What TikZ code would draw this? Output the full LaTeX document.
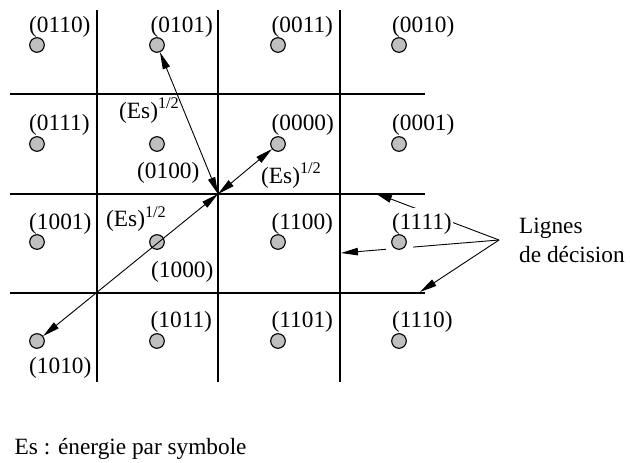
\documentclass[tikz,border=0pt]{standalone}
\usepackage{fontspec}
\setmainfont{Liberation Serif}
\usetikzlibrary{arrows.meta}
\begin{document}
\begin{tikzpicture}[x=1pt,y=-1pt,
  font=\fontsize{23.3}{28}\selectfont,
  gridline/.style={line width=2pt},
  pt/.style={circle,draw,fill=gray!50,line width=1.1pt,minimum size=14.6pt,inner sep=0pt},
  halo/.style={circle,fill=white,minimum size=30pt,inner sep=0pt},
  lab/.style={anchor=base west,inner sep=0pt},
  arr/.style={line width=0.9pt,-{Triangle[length=17pt,width=7.5pt]}},
  darr/.style={line width=0.9pt,{Triangle[length=17pt,width=7.5pt]}-{Triangle[length=17pt,width=7.5pt]}}]
\useasboundingbox (0,0) rectangle (630,463);
% grid
\draw[gridline] (97,10) -- (97,382);
\draw[gridline] (218,10) -- (218,382);
\draw[gridline] (340,10) -- (340,382);
\draw[gridline] (10,94) -- (425,94);
\draw[gridline] (10,194) -- (425,194);
\draw[gridline] (10,293) -- (425,293);
\coordinate (o) at (218,194);
% decision lines
\coordinate (ld) at (499,240);
\coordinate (t1) at (375,193);
\coordinate (t2) at (341,253);
\coordinate (t3) at (420,292);
\draw[arr] (ld) -- (t1);
\draw[arr] (ld) -- (t2);
\draw[arr] (ld) -- (t3);
\node[halo] (h1111) at (399,242) {};
% points
\node[pt] (c0110) at (37,45) {};
\node[pt] (c0101) at (157,45) {};
\node[pt] (c0011) at (278,45) {};
\node[pt] (c0010) at (399,45) {};
\node[pt] (c0111) at (37,144) {};
\node[pt] (c0100) at (157,144) {};
\node[pt] (c0000) at (278,144) {};
\node[pt] (c0001) at (399,144) {};
\node[pt] (c1001) at (37,242) {};
\node[pt] (c1000) at (157,242) {};
\node[pt] (c1100) at (278,242) {};
\node[pt] (c1010) at (37,341) {};
\node[pt] (c1011) at (157,341) {};
\node[pt] (c1101) at (278,341) {};
\node[pt] (c1110) at (399,341) {};
% labels
\node[lab] (l0110) at (29,32) {(0110)};
\node[lab] (l0101) at (150.5,32) {(0101)};
\node[lab] (l0011) at (271.5,32) {(0011)};
\node[lab] (l0010) at (392,32) {(0010)};
\node[lab] (l0111) at (29,130) {(0111)};
\node[lab] (l0000) at (271.5,130) {(0000)};
\node[lab] (l0001) at (392,130) {(0001)};
\node[lab] (l0100) at (137,178) {(0100)};
\node[lab] (l1001) at (29,229) {(1001)};
\node[lab] (l1100) at (271.5,229) {(1100)};
\node[lab,fill=white,inner xsep=1pt,inner ysep=4.5pt] (l1111) at (391,229) {(1111)};
\node[pt] (c1111) at (399,242) {};
\node[lab] (l1000) at (151,277) {(1000)};
\node[lab] (l1011) at (150.5,327) {(1011)};
\node[lab] (l1101) at (271.5,327) {(1101)};
\node[lab] (l1110) at (392,327) {(1110)};
\node[lab] (l1010) at (29,373) {(1010)};
\node[lab] (es1) at (119,118) {(Es)\textsuperscript{1/2}};
\node[lab] (es2) at (261,183) {(Es)\textsuperscript{1/2}};
\node[lab] (es3) at (106,226.5) {(Es)\textsuperscript{1/2}};
\node[lab] (lig1) at (519,233) {Lignes};
\node[lab] (lig2) at (519,262) {de décision};
\node[lab] (leg) at (14.5,454) {Es : énergie par symbole};
% distance arrows
\draw[darr] (o) -- (c0101);
\draw[darr] (o) -- (c0000);
\draw[darr] (o) -- (c1010);
\end{tikzpicture}
\end{document}
